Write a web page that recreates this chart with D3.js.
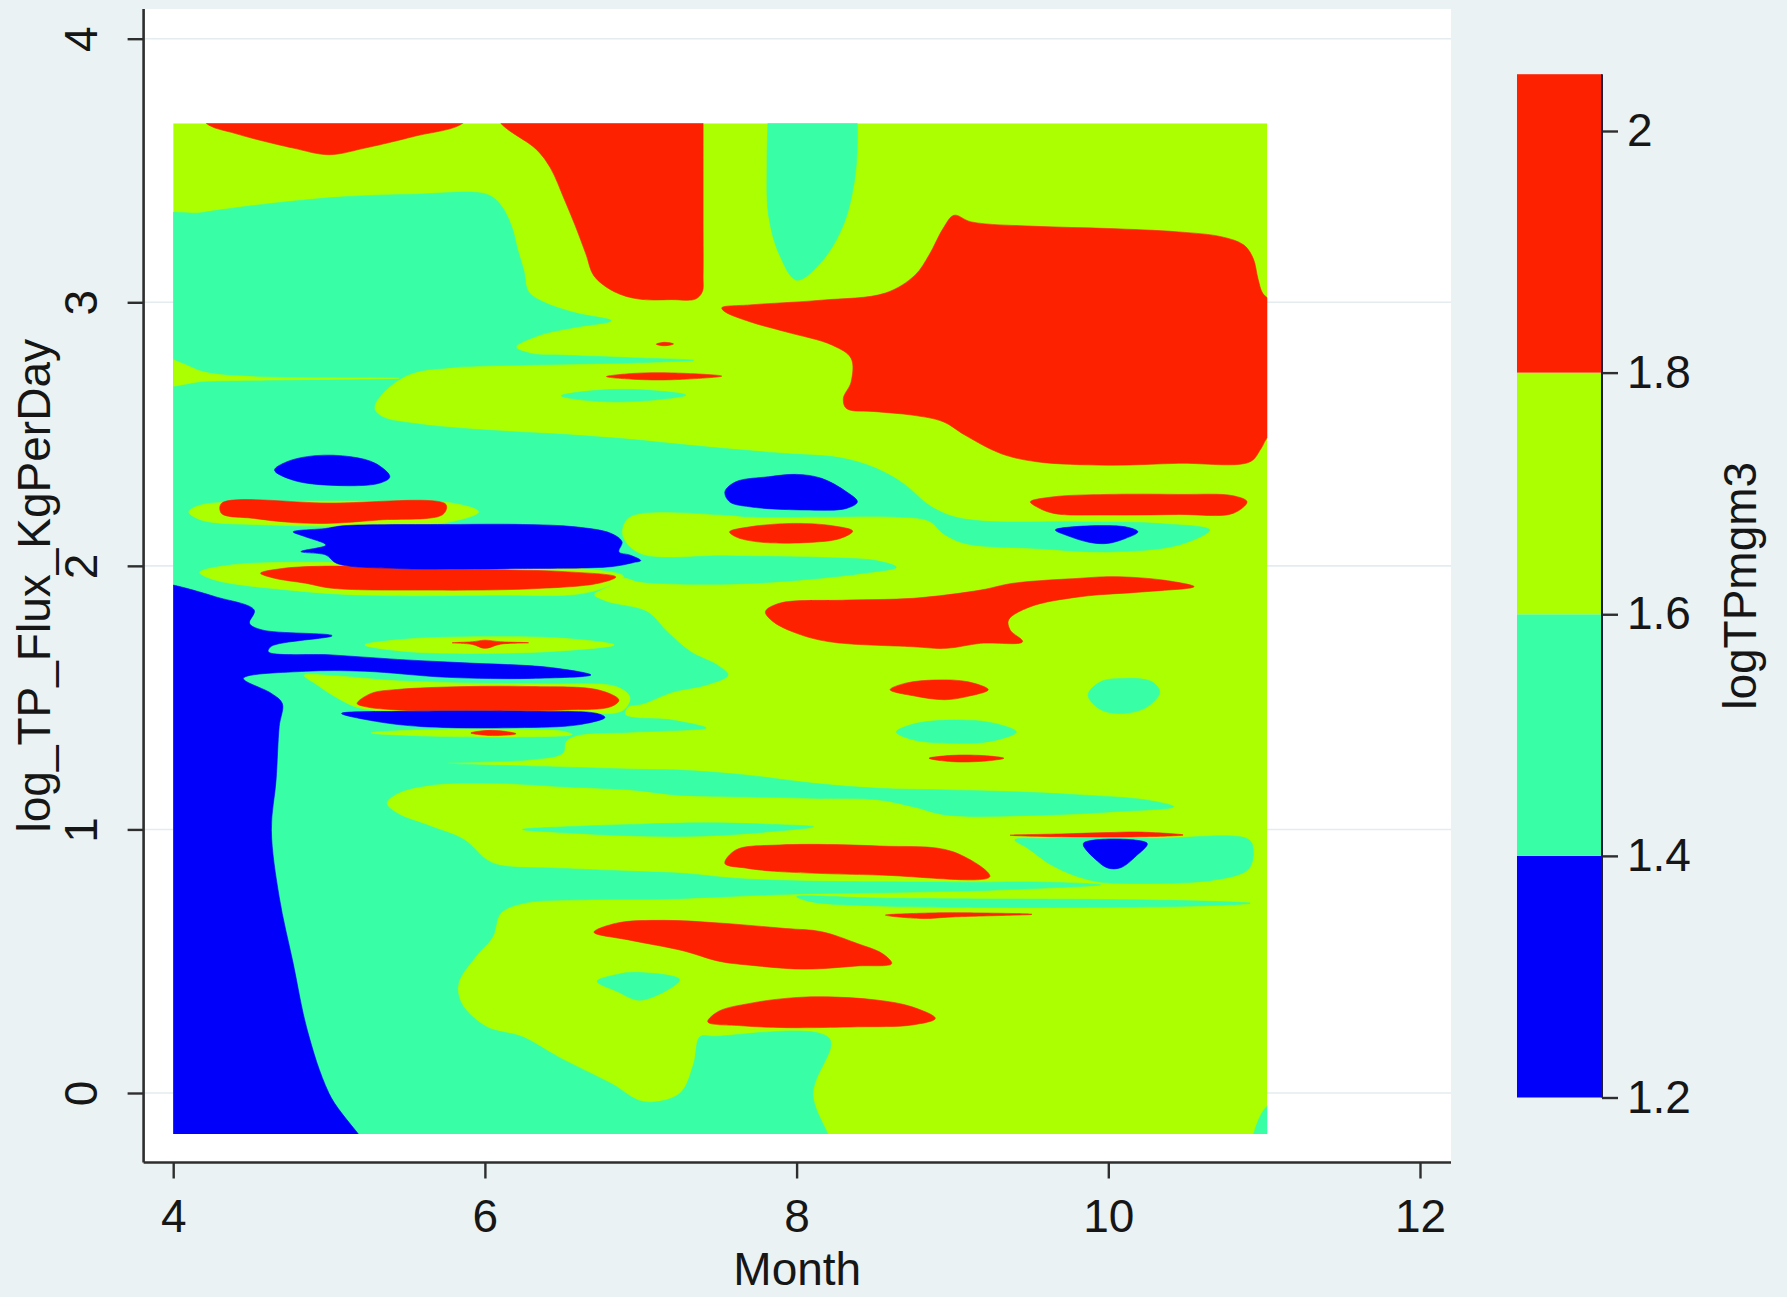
<!DOCTYPE html>
<html>
<head>
<meta charset="utf-8">
<script src="https://cdn.jsdelivr.net/npm/d3@7"></script>
<style>
  html, body { margin: 0; padding: 0; background: #eaf2f3; }
  svg { display: block; }
  text { font-family: "Liberation Sans", Arial, Helvetica, sans-serif; fill: #161616; }
</style>
</head>
<body>
<svg id="chart" width="1787" height="1297"></svg>
<script>
// ---- contour levels of logTPmgm3 and the band colours ----
const levels = [1.2, 1.4, 1.6, 1.8, 2.0];
const zMax = 2.047;
const bandColors = ["#0000fb", "#38ffa6", "#acff00", "#fd2100"];
const zTicks = [1.2, 1.4, 1.6, 1.8, 2.0];

// ---- axes ----
const xTicks = [4, 6, 8, 10, 12];
const yTicks = [0, 1, 2, 3, 4];
const xExtent = [4, 11.02];      // Month range covered by the surface
const yExtent = [-0.156, 3.679]; // log_TP_Flux_KgPerDay range covered by the surface

// ---- filled contour regions, [Month, log_TP_Flux_KgPerDay] outlines ----
// band 1.4 - 1.6
const cyanBands = [
  [[3.9,3.31],[4.18,3.34],[4.63,3.375],[5.09,3.40],[5.55,3.41],[6.01,3.41],[6.10,3.37],[6.17,3.29],[6.21,3.20],[6.25,3.12],[6.28,3.04],[6.38,3.00],[6.58,2.96],[6.81,2.93],
   [6.58,2.905],[6.35,2.875],[6.20,2.83],[6.30,2.805],[6.47,2.80],[6.93,2.79],[7.34,2.78],[6.93,2.77],[6.24,2.762],[5.78,2.752],[5.53,2.73],
   [5.37,2.67],[5.29,2.60],[5.34,2.566],[5.55,2.54],[6.01,2.515],[6.47,2.50],[6.93,2.48],[7.27,2.46],[7.54,2.445],[7.93,2.426],[8.28,2.41],[8.51,2.37],[8.69,2.31],[8.85,2.23],[8.99,2.19],[9.19,2.17],[9.77,2.167],[10.34,2.16],[10.65,2.136],
   [10.45,2.079],[10.0,2.053],[9.54,2.066],[9.08,2.085],[8.94,2.123],[8.85,2.17],[8.62,2.186],[8.16,2.186],[7.70,2.186],[7.54,2.193],[6.93,2.186],[6.88,2.12],[6.99,2.047],[7.54,2.038],[7.93,2.035],[8.16,2.032],[8.51,2.02],[8.64,1.995],[8.43,1.972],[7.89,1.94],[7.42,1.93],[6.99,1.94],[6.89,1.955],[6.80,1.925],[6.70,1.89],[6.78,1.864],[7.04,1.826],[7.17,1.75],[7.32,1.674],[7.49,1.624],[7.56,1.586],[7.42,1.548],[7.21,1.522],[7.02,1.478],[6.92,1.465],[6.90,1.435],[7.2,1.415],[7.42,1.385],[7.2,1.375],[6.9,1.368],[6.6,1.358],[6.52,1.335],[6.50,1.29],[6.3,1.265],[5.76,1.251],[6.3,1.24],[6.6,1.235],[7.0,1.228],[7.25,1.225],[7.68,1.206],[8.11,1.175],[8.53,1.156],[8.96,1.15],[9.39,1.143],[9.82,1.131],[10.24,1.112],[10.42,1.086],[10.03,1.067],[9.60,1.055],[8.96,1.055],[8.75,1.086],[8.53,1.112],[8.11,1.118],[7.68,1.124],[7.25,1.13],[6.94,1.15],[6.51,1.162],[6.09,1.175],[5.66,1.169],[5.44,1.137],[5.37,1.099],[5.44,1.06],[5.66,1.01],[5.87,0.96],[6.0,0.89],[6.09,0.865],[6.51,0.852],[7.0,0.84],[7.28,0.833],[7.6,0.815],[8.0,0.805],[9.0,0.80],[9.6,0.80],[9.95,0.79],[9.5,0.775],[9.0,0.765],[8.5,0.76],[8.0,0.755],[7.54,0.745],[7.15,0.736],[6.70,0.734],[6.24,0.719],[6.10,0.681],[6.05,0.593],[5.94,0.517],[5.83,0.416],[5.85,0.34],[6.01,0.251],[6.24,0.213],[6.47,0.137],[6.81,0.036],[7.02,-0.033],[7.25,-0.002],[7.34,0.112],[7.38,0.213],[7.475,0.215],[8.21,0.207],[8.105,-0.002],[8.23,-0.3],[3.9,-0.3]],
  [[7.83,3.9],[7.82,3.75],[7.81,3.52],[7.82,3.33],[7.89,3.18],[8.0,3.084],[8.16,3.154],[8.30,3.293],[8.37,3.457],[8.39,3.608],[8.385,3.75],[8.38,3.9],[8.1,3.95]],
  [[6.49,2.645],[6.7,2.665],[7.0,2.668],[7.29,2.648],[7.0,2.625],[6.7,2.625]],
  [[8.64,1.37],[8.75,1.40],[9.0,1.415],[9.25,1.405],[9.41,1.37],[9.25,1.335],[9.0,1.327],[8.75,1.34]],
  [[9.87,1.51],[9.95,1.56],[10.1,1.573],[10.28,1.56],[10.33,1.52],[10.25,1.465],[10.1,1.44],[9.95,1.455]],
  [[6.24,1.00],[6.6,1.012],[7.0,1.02],[7.4,1.025],[7.8,1.02],[8.11,1.01],[7.8,0.99],[7.4,0.975],[7.0,0.975],[6.6,0.985]],
  [[9.40,0.96],[9.6,0.966],[10.3,0.966],[10.9,0.962],[10.93,0.92],[10.9,0.85],[10.7,0.81],[10.2,0.795],[9.9,0.805],[9.65,0.86],[9.48,0.93]],
  [[8.0,0.745],[8.5,0.740],[9.0,0.737],[10.0,0.734],[10.6,0.728],[10.91,0.72],[10.6,0.710],[10.0,0.705],[9.0,0.705],[8.5,0.71],[8.1,0.725]],
  [[6.72,0.424],[6.85,0.45],[6.97,0.458],[7.25,0.43],[7.0,0.352],[6.85,0.385]],
  [[10.92,-0.3],[11.2,-0.3],[11.2,-0.06],[11.02,-0.05]]
];

// band 1.6 - 1.8 (pockets inside the 1.4 - 1.6 band)
const greenBands = [
  [[3.9,2.795],[4.05,2.77],[4.2,2.735],[4.5,2.718],[5.45,2.712],[4.5,2.704],[4.2,2.70],[3.9,2.688]],
  [[4.10,2.205],[4.18,2.231],[4.63,2.243],[5.32,2.245],[5.78,2.239],[5.96,2.205],[5.78,2.167],[5.32,2.152],[4.63,2.155],[4.18,2.174]],
  [[4.17,1.975],[4.37,2.003],[5.02,2.013],[5.66,2.0],[6.09,1.995],[6.7,1.985],[6.89,1.96],[6.80,1.925],[6.6,1.893],[6.09,1.889],[5.23,1.889],[4.80,1.905],[4.27,1.946]],
  [[5.23,1.70],[5.5,1.722],[6.0,1.731],[6.5,1.725],[6.83,1.70],[6.5,1.678],[6.0,1.668],[5.5,1.675]],
  [[4.84,1.585],[5.05,1.582],[5.4,1.565],[5.9,1.555],[6.4,1.552],[6.85,1.54],[6.93,1.50],[6.88,1.45],[6.5,1.447],[5.5,1.45],[5.2,1.46],[5.05,1.50],[4.92,1.55]],
  [[5.27,1.366],[5.6,1.378],[6.0,1.381],[6.49,1.373],[6.56,1.36],[6.2,1.351],[5.6,1.355]]
];

// band above 1.8
const redBands = [
  [[4.0,3.9],[4.15,3.75],[4.21,3.68],[4.40,3.64],[4.77,3.585],[5.0,3.56],[5.23,3.585],[5.55,3.63],[5.86,3.68],[5.93,3.75],[6.0,3.9],[5.0,3.95]],
  [[5.95,3.95],[6.03,3.76],[6.10,3.68],[6.33,3.58],[6.42,3.51],[6.51,3.39],[6.58,3.29],[6.65,3.18],[6.70,3.10],[6.83,3.04],[6.99,3.012],[7.2,3.01],[7.35,3.012],[7.395,3.04],[7.40,3.10],[7.40,3.3],[7.40,3.5],[7.40,3.7],[7.40,3.95],[6.7,4.0]],
  [[7.52,2.979],[7.70,2.99],[8.16,3.008],[8.57,3.035],[8.76,3.103],[8.85,3.179],[8.94,3.28],[9.01,3.33],[9.12,3.305],[9.54,3.288],[9.995,3.28],[10.45,3.267],[10.73,3.248],[10.87,3.217],[10.93,3.166],[10.96,3.09],[10.99,3.035],[11.03,3.015],[11.2,3.0],[11.2,2.5],[11.03,2.49],[10.98,2.445],[10.91,2.395],[10.45,2.389],[9.995,2.382],[9.54,2.395],[9.31,2.426],[9.08,2.496],[8.94,2.547],[8.74,2.572],[8.51,2.585],[8.32,2.597],[8.30,2.635],[8.35,2.698],[8.35,2.787],[8.23,2.837],[7.93,2.888],[7.70,2.926],[7.54,2.964]],
  [[7.10,2.841],[7.15,2.848],[7.21,2.842],[7.15,2.835]],
  [[6.78,2.718],[6.95,2.73],[7.2,2.732],[7.52,2.72],[7.2,2.706],[6.95,2.708]],
  [[4.31,2.237],[5.0,2.238],[5.75,2.233],[5.73,2.195],[5.32,2.174],[4.98,2.161],[4.75,2.165],[4.52,2.18],[4.31,2.199]],
  [[7.57,2.129],[7.70,2.148],[7.98,2.161],[8.23,2.152],[8.36,2.132],[8.28,2.104],[8.05,2.088],[7.75,2.091],[7.61,2.11]],
  [[9.50,2.243],[9.65,2.262],[9.995,2.271],[10.45,2.271],[10.80,2.266],[10.89,2.243],[10.80,2.199],[10.45,2.195],[9.995,2.193],[9.65,2.199],[9.54,2.224]],
  [[4.56,1.972],[4.70,1.99],[5.02,1.999],[5.44,1.99],[6.09,1.985],[6.51,1.978],[6.84,1.958],[6.73,1.934],[6.30,1.913],[5.66,1.908],[5.02,1.915],[4.85,1.934],[4.65,1.953]],
  [[7.80,1.826],[7.89,1.858],[8.32,1.87],[8.75,1.877],[9.18,1.908],[9.39,1.934],[9.82,1.953],[10.03,1.959],[10.35,1.946],[10.55,1.921],[10.24,1.902],[9.82,1.883],[9.50,1.845],[9.36,1.795],[9.37,1.757],[9.45,1.712],[9.18,1.706],[8.96,1.687],[8.75,1.693],[8.21,1.712],[8.0,1.744],[7.85,1.788]],
  [[5.79,1.708],[5.92,1.712],[6.0,1.718],[6.1,1.712],[6.28,1.708],[6.1,1.703],[6.0,1.687],[5.92,1.702]],
  [[5.18,1.478],[5.27,1.516],[5.44,1.531],[5.87,1.542],[6.30,1.542],[6.73,1.529],[6.86,1.491],[6.81,1.466],[6.51,1.453],[5.87,1.45],[5.44,1.453],[5.23,1.466]],
  [[5.91,1.366],[6.0,1.375],[6.1,1.374],[6.20,1.363],[6.05,1.356]],
  [[8.60,1.53],[8.7,1.555],[8.9,1.567],[9.1,1.56],[9.23,1.53],[9.1,1.505],[8.95,1.492],[8.75,1.507]],
  [[8.85,1.27],[9.0,1.281],[9.2,1.28],[9.33,1.27],[9.2,1.259],[9.0,1.257]],
  [[9.37,0.978],[9.7,0.983],[10.0,0.988],[10.2,0.99],[10.48,0.979],[10.2,0.972],[9.7,0.972]],
  [[7.54,0.871],[7.61,0.922],[7.89,0.941],[8.53,0.937],[9.0,0.916],[9.24,0.821],[8.53,0.827],[7.89,0.84],[7.68,0.853]],
  [[8.57,0.675],[8.8,0.682],[9.0,0.684],[9.51,0.678],[9.0,0.668],[8.8,0.662]],
  [[6.70,0.61],[6.85,0.645],[7.15,0.655],[7.5,0.645],[7.93,0.624],[8.16,0.612],[8.39,0.567],[8.55,0.529],[8.61,0.491],[8.39,0.482],[8.05,0.47],[7.70,0.485],[7.5,0.50],[7.27,0.54],[6.93,0.58]],
  [[7.43,0.27],[7.5,0.31],[7.70,0.34],[7.93,0.359],[8.16,0.365],[8.51,0.353],[8.74,0.327],[8.89,0.283],[8.74,0.258],[8.39,0.251],[7.93,0.248],[7.65,0.255]]
];

// band below 1.4
const blueBands = [
  [[3.9,1.935],[4.0,1.927],[4.27,1.883],[4.52,1.832],[4.49,1.782],[4.57,1.757],[5.02,1.735],[4.63,1.695],[4.61,1.674],[5.02,1.662],[5.44,1.645],[5.87,1.632],[6.41,1.615],[6.68,1.586],[6.30,1.573],[5.76,1.577],[5.23,1.600],[4.85,1.600],[4.45,1.573],[4.63,1.516],[4.70,1.478],[4.68,1.39],[4.66,1.187],[4.63,0.997],[4.68,0.744],[4.77,0.491],[4.86,0.239],[5.00,-0.002],[5.3,-0.3],[3.9,-0.3]],
  [[4.65,2.363],[4.73,2.395],[4.91,2.418],[5.14,2.414],[5.30,2.388],[5.39,2.338],[5.32,2.313],[5.0,2.306],[4.77,2.325]],
  [[4.77,2.129],[4.98,2.142],[5.09,2.152],[5.78,2.157],[6.24,2.157],[6.58,2.148],[6.81,2.123],[6.88,2.091],[6.86,2.053],[6.93,2.041],[7.0,2.02],[6.95,2.012],[6.81,1.997],[6.24,1.99],[5.78,1.988],[5.44,1.99],[5.05,2.009],[4.98,2.041],[4.82,2.054],[4.98,2.079],[4.84,2.112]],
  [[5.08,1.44],[5.5,1.448],[6.3,1.448],[6.72,1.44],[6.77,1.425],[6.6,1.397],[6.2,1.386],[5.6,1.39],[5.3,1.41]],
  [[7.54,2.281],[7.61,2.319],[7.82,2.338],[8.0,2.347],[8.16,2.332],[8.32,2.281],[8.39,2.243],[8.32,2.218],[8.05,2.212],[7.70,2.224],[7.57,2.243]],
  [[9.66,2.136],[9.77,2.148],[10.11,2.148],[10.19,2.129],[10.11,2.104],[9.995,2.085],[9.88,2.089],[9.74,2.114]],
  [[9.84,0.947],[10.25,0.947],[10.18,0.90],[10.08,0.855],[10.0,0.853],[9.93,0.88]]
];

// ---- layout ----
const svg = d3.select("#chart");
const W = 1787, H = 1297;
const frame = { left: 143.6, right: 1451, top: 9, bottom: 1162.5 };

const x = d3.scaleLinear().domain([4, 12]).range([173.2, 1420]);
const y = d3.scaleLinear().domain([0, 4]).range([1093, 38.7]);
const z = d3.scaleLinear().domain([1.2, 2.0]).range([1097.5, 131]);

svg.append("rect").attr("width", W).attr("height", H).attr("fill", "#eaf2f3");

// plot region
svg.append("rect")
  .attr("x", frame.left).attr("y", frame.top)
  .attr("width", frame.right - frame.left).attr("height", frame.bottom - frame.top)
  .attr("fill", "#ffffff");

// horizontal grid lines
svg.append("g").selectAll("line").data(yTicks).join("line")
  .attr("x1", frame.left).attr("x2", frame.right)
  .attr("y1", d => y(d)).attr("y2", d => y(d))
  .attr("stroke", "#e4ecef").attr("stroke-width", 1.6);

// contour surface
svg.append("clipPath").attr("id", "surface-clip")
  .append("rect")
  .attr("x", x(xExtent[0])).attr("y", y(yExtent[1]))
  .attr("width", x(xExtent[1]) - x(xExtent[0]))
  .attr("height", y(yExtent[0]) - y(yExtent[1]));

const surface = svg.append("g").attr("clip-path", "url(#surface-clip)");

surface.append("rect")
  .attr("x", x(xExtent[0])).attr("y", y(yExtent[1]))
  .attr("width", x(xExtent[1]) - x(xExtent[0]))
  .attr("height", y(yExtent[0]) - y(yExtent[1]))
  .attr("fill", bandColors[2]);

const outline = d3.line()
  .x(d => x(d[0])).y(d => y(d[1]))
  .curve(d3.curveCatmullRomClosed.alpha(0.5));

const layers = [
  { polys: cyanBands, band: 1 },
  { polys: greenBands, band: 2 },
  { polys: redBands, band: 3 },
  { polys: blueBands, band: 0 }
];
layers.forEach(layer => {
  surface.append("g").selectAll("path").data(layer.polys).join("path")
    .attr("d", outline)
    .attr("fill", bandColors[layer.band])
    .attr("stroke", bandColors[layer.band])
    .attr("stroke-width", 0.6);
});

// ---- axes ----
const axisColor = "#2e2e2e";
const fontSize = 46;

const xAxis = svg.append("g").attr("transform", `translate(0,${frame.bottom})`)
  .call(d3.axisBottom(x).tickValues(xTicks).tickSize(16).tickPadding(21).tickFormat(d3.format("d")));
xAxis.select(".domain").remove();
xAxis.selectAll(".tick line").attr("stroke", axisColor).attr("stroke-width", 2.4);
xAxis.selectAll(".tick text").attr("font-size", fontSize).attr("fill", "#161616")
  .style("font-family", "'Liberation Sans', Arial, sans-serif");

const yAxis = svg.append("g").attr("transform", `translate(${frame.left},0)`)
  .call(d3.axisLeft(y).tickValues(yTicks).tickSize(16).tickFormat(d3.format("d")));
yAxis.select(".domain").remove();
yAxis.selectAll(".tick line").attr("stroke", axisColor).attr("stroke-width", 2.4);
yAxis.selectAll(".tick text")
  .attr("x", null).attr("dy", null)
  .attr("text-anchor", "middle")
  .attr("transform", "translate(-47,0) rotate(-90)")
  .attr("font-size", fontSize).attr("fill", "#161616")
  .style("font-family", "'Liberation Sans', Arial, sans-serif");

// axis lines
svg.append("line").attr("x1", frame.left).attr("x2", frame.right)
  .attr("y1", frame.bottom).attr("y2", frame.bottom)
  .attr("stroke", axisColor).attr("stroke-width", 2.6);
svg.append("line").attr("x1", frame.left).attr("x2", frame.left)
  .attr("y1", frame.top).attr("y2", frame.bottom)
  .attr("stroke", axisColor).attr("stroke-width", 2.6);

// axis titles
svg.append("text")
  .attr("x", (frame.left + frame.right) / 2).attr("y", 1285)
  .attr("text-anchor", "middle").attr("font-size", fontSize)
  .text("Month");
svg.append("text")
  .attr("transform", `translate(50,${(frame.top + frame.bottom) / 2}) rotate(-90)`)
  .attr("text-anchor", "middle").attr("font-size", fontSize)
  .text("log_TP_Flux_KgPerDay");

// ---- colour bar ----
const bar = { x: 1517, w: 85 };
const bands = levels.slice(0, -1).map((lo, i) => ({
  lo, hi: i === levels.length - 2 ? zMax : levels[i + 1], band: i
}));
svg.append("g").selectAll("rect").data(bands).join("rect")
  .attr("x", bar.x).attr("width", bar.w)
  .attr("y", d => z(d.hi)).attr("height", d => z(d.lo) - z(d.hi))
  .attr("fill", d => bandColors[d.band]);

const zAxis = svg.append("g").attr("transform", `translate(${bar.x + bar.w},0)`)
  .call(d3.axisRight(z).tickValues(zTicks).tickSize(16).tickPadding(9).tickFormat(d3.format("~g")));
zAxis.select(".domain").remove();
zAxis.selectAll(".tick line").attr("stroke", axisColor).attr("stroke-width", 2.4);
zAxis.selectAll(".tick text").attr("font-size", fontSize).attr("fill", "#161616")
  .style("font-family", "'Liberation Sans', Arial, sans-serif");
svg.append("line")
  .attr("x1", bar.x + bar.w).attr("x2", bar.x + bar.w)
  .attr("y1", z(zMax)).attr("y2", z(1.2))
  .attr("stroke", "#1e1e3a").attr("stroke-width", 2);

svg.append("text")
  .attr("transform", `translate(1756,${(z(zMax) + z(1.2)) / 2}) rotate(-90)`)
  .attr("text-anchor", "middle").attr("font-size", fontSize)
  .text("logTPmgm3");
</script>
</body>
</html>
